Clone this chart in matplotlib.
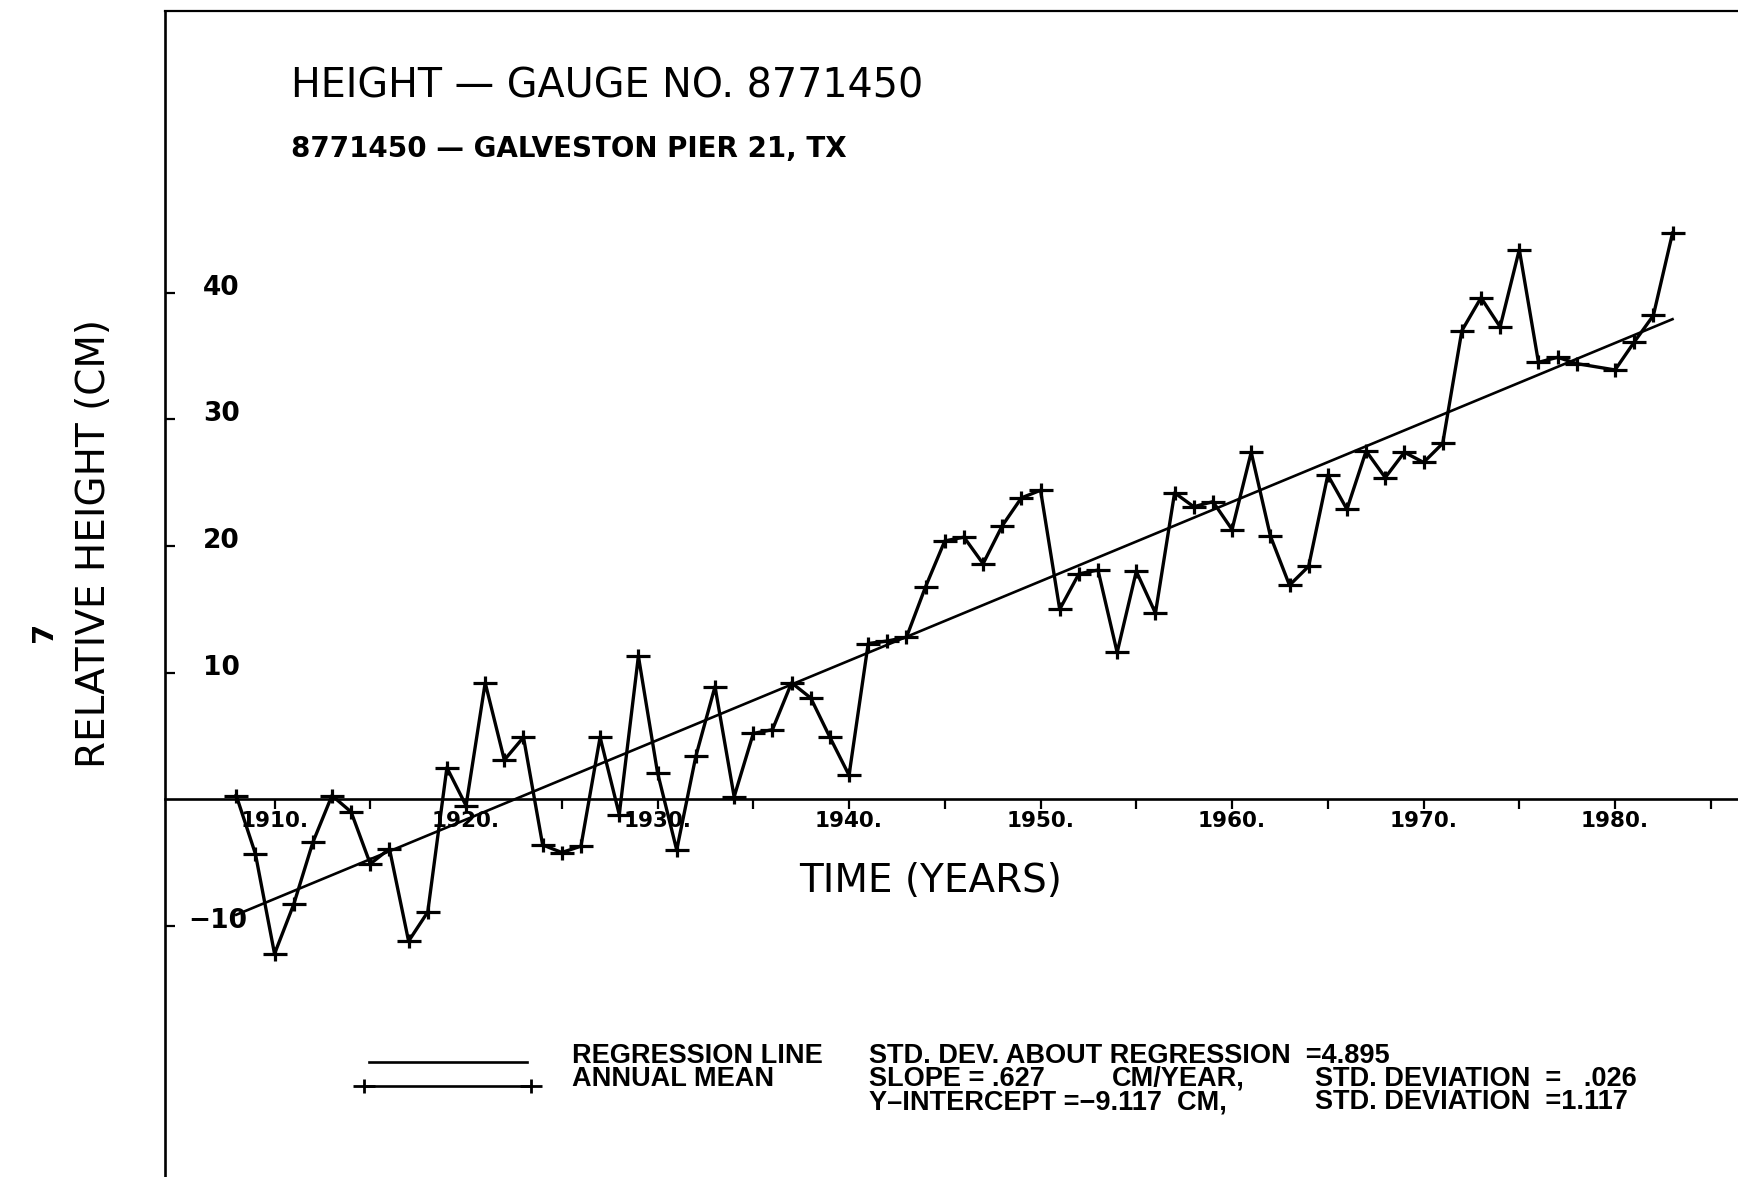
import matplotlib
matplotlib.use("Agg")
import matplotlib.pyplot as plt
from matplotlib.lines import Line2D
from matplotlib.path import Path
from matplotlib import font_manager

# --- data (annual mean sea level, cm) ---
years = list(range(1908, 1979)) + [1980, 1981, 1982, 1983]
heights = [
    0.3, -4.3, -12.2, -8.3, -3.4, 0.3, -1.0, -5.1, -3.9, -11.2,
    -8.9, 2.5, -0.5, 9.2, 3.1, 4.9, -3.6, -4.2, -3.7, 4.9,
    -1.2, 11.3, 2.1, -4.0, 3.4, 8.9, 0.2, 5.2, 5.5, 9.2,
    8.0, 4.9, 1.9, 12.3, 12.5, 12.8, 16.8, 20.4, 20.7, 18.6,
    21.6, 23.8, 24.4, 15.0, 17.8, 18.1, 11.6, 18.0, 14.7, 24.2,
    23.1, 23.5, 21.3, 27.4, 20.8, 16.9, 18.4, 25.6, 22.9, 27.5,
    25.4, 27.4, 26.6, 28.1, 37.0, 39.6, 37.3, 43.4, 34.5, 34.9,
    34.4, 33.9, 36.1, 38.2, 44.7,
]

# regression as printed on the chart
slope = 0.627
intercept = -9.117
reg_years = [1908, 1983]

xticks = list(range(1910, 1990, 5))
xlabels = [f"{t}." if t % 10 == 0 and t <= 1980 else "" for t in xticks]
yticks = [-10, 10, 20, 30, 40]

W, H = 1738, 1177
plt.rcParams["font.family"] = ["DejaVu Sans"]

names = {f.name for f in font_manager.fontManager.ttflist}
legend_font = "Liberation Sans" if "Liberation Sans" in names else "DejaVu Sans"

fig = plt.figure(figsize=(W / 100, H / 100), dpi=100)
fig.patch.set_facecolor("white")

# axes box: left frame at x=165 px, top at 11 px, running off right/bottom edges
ax = fig.add_axes([165 / W, 0, (W - 165) / W, (H - 11) / H])
ax.set_xlim(1904.28, 1986.42)
ax.set_ylim(-29.82, 62.24)

# plus marker that is wider than tall
plus = Path([(-1, 0), (1, 0), (0, -0.62), (0, 0.62)],
            [Path.MOVETO, Path.LINETO, Path.MOVETO, Path.LINETO])

ax.plot(years, heights, color="black", lw=2.4, marker=plus, ms=17,
        mew=2.3, zorder=3, clip_on=False)
reg_vals = [intercept + slope * (y - 1908) for y in reg_years]
ax.plot(reg_years, reg_vals, color="black", lw=1.9, zorder=2)

# spines
ax.spines["right"].set_visible(False)
ax.spines["left"].set_linewidth(1.9)
ax.spines["top"].set_linewidth(1.6)
ax.spines["bottom"].set_position(("data", 0))
ax.spines["bottom"].set_linewidth(1.9)

ax.set_xticks(xticks)
ax.set_xticklabels(xlabels, fontsize=15.5, fontweight="bold")
ax.tick_params(axis="x", direction="out", length=7.5, width=1.6, pad=1.0)
ax.set_yticks(yticks)
ax.set_yticklabels([])
ax.tick_params(axis="y", direction="in", length=7.5, width=1.6)

ytf = ax.get_yaxis_transform()
for t in yticks:
    lab = f"{t}" if t > 0 else "\u2212" + str(abs(t))
    right = 240 if t > 0 else 247
    ax.text((right - 165) / (W - 165), t + 0.4, lab, transform=ytf,
            ha="right", va="center", fontsize=19, fontweight="bold")

def fx(px):
    return px / W

def fy(py):
    return 1 - py / H

# titles
fig.text(fx(291), fy(86), "HEIGHT \u2014 GAUGE NO. 8771450", fontsize=28.5,
         ha="left", va="center")
fig.text(fx(291), fy(149), "8771450 \u2014 GALVESTON PIER 21, TX", fontsize=20,
         fontweight="bold", ha="left", va="center")

# axis titles
fig.text(fx(931), fy(881), "TIME (YEARS)", fontsize=28, ha="center", va="center")
fig.text(fx(94), fy(543), "RELATIVE HEIGHT (CM)", fontsize=28, rotation=90,
         ha="center", va="center")
fig.text(fx(44), fy(632), "7", fontsize=21, fontweight="bold", rotation=90,
         ha="center", va="center")

# legend samples
fig.add_artist(Line2D([fx(369), fx(527)], [fy(1062), fy(1062)], color="black", lw=1.9))
fig.add_artist(Line2D([fx(364), fx(531)], [fy(1086), fy(1086)], color="black", lw=1.9,
                      marker=plus, ms=16, mew=2.0))

lkw = dict(fontsize=19.5, fontweight="bold", family=legend_font, ha="left", va="center")
fig.text(fx(572), fy(1056), "REGRESSION LINE", **lkw)
fig.text(fx(572), fy(1079), "ANNUAL MEAN", **lkw)
fig.text(fx(869), fy(1056), "STD. DEV. ABOUT REGRESSION  =4.895", **lkw)
fig.text(fx(869), fy(1079), "SLOPE = .627", **lkw)
fig.text(fx(1112), fy(1079), "CM/YEAR,", **lkw)
fig.text(fx(1315), fy(1079), "STD. DEVIATION  =   .026", **lkw)
fig.text(fx(869), fy(1102), "Y\u2013INTERCEPT =\u22129.117  CM,", **lkw)
fig.text(fx(1315), fy(1102), "STD. DEVIATION  =1.117", **lkw)

fig.savefig("out.png", dpi=100, facecolor="white")
